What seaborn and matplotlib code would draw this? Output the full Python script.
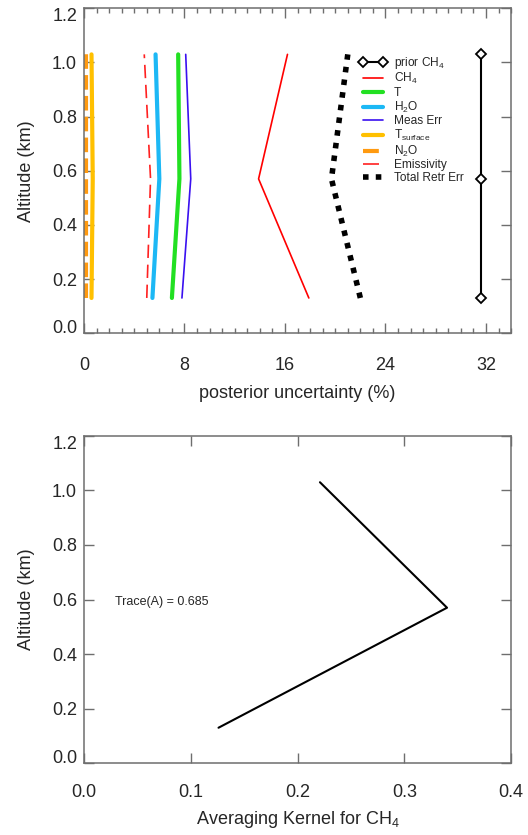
import numpy as np
import pandas as pd
import seaborn as sns
import matplotlib.pyplot as plt
from matplotlib.ticker import MultipleLocator, FixedLocator, FormatStrFormatter

# altitude levels (km)
alt = [0.13, 0.57, 1.03]

# posterior uncertainty (%) per error source
ch4 = [17.9, 13.9, 16.2]
temp = [7.0, 7.6, 7.5]
h2o = [5.45, 6.0, 5.7]
meas_err = [7.8, 8.5, 8.1]
t_surf = [0.6, 0.7, 0.6]
n2o = [0.15, 0.15, 0.15]
emis = [5.0, 5.3, 4.8]
total_err = [22.0, 19.7, 21.0]
prior_ch4 = [31.6, 31.6, 31.6]

# averaging kernel diagonal
kernel = [0.126, 0.340, 0.221]
trace_txt = "Trace(A) = 0.685"

alt_ticks = [0.0, 0.2, 0.4, 0.6, 0.8, 1.0, 1.2]

sns.set_style("ticks")
plt.rcParams["font.family"] = ["Liberation Sans", "DejaVu Sans"]
plt.rcParams["mathtext.default"] = "regular"

fig = plt.figure(figsize=(5.28, 8.35), dpi=100)
ax1 = fig.add_axes([0.159, 0.601, 0.809, 0.389])
ax2 = fig.add_axes([0.159, 0.086, 0.809, 0.392])

df = pd.DataFrame({"alt": alt, "ch4": ch4, "temp": temp, "h2o": h2o,
                   "meas": meas_err, "tsurf": t_surf, "n2o": n2o,
                   "emis": emis, "total": total_err, "prior": prior_ch4,
                   "kernel": kernel})

series = [
    ("prior", r"prior CH$_4$", dict(color="black", lw=1.5, marker="D", ms=5,
                                    mfc="white", mec="black", mew=1.3)),
    ("ch4", r"CH$_4$", dict(color="#ff0000", lw=1.2)),
    ("temp", "T", dict(color="#22e022", lw=3.0)),
    ("h2o", r"H$_2$O", dict(color="#1cb8f5", lw=3.0)),
    ("meas", "Meas Err", dict(color="#3a10f0", lw=1.2)),
    ("tsurf", r"T$_{surface}$", dict(color="#ffc000", lw=3.0)),
    ("n2o", r"N$_2$O", dict(color="#ff9a10", lw=3.0, linestyle=(0, (3.5, 1.5)))),
    ("emis", "Emissivity", dict(color="#ff2020", lw=1.2, linestyle=(0, (8, 4)))),
    ("total", "Total Retr Err", dict(color="black", lw=4.0, linestyle=(0, (1.0, 1.3)))),
]

for col, lab, kw in series:
    sns.lineplot(data=df, x=col, y="alt", orient="y", sort=False,
                 estimator=None, ax=ax1, label=lab, **kw)

ax1.set_xlim(0, 34)
ax1.set_ylim(0, 1.2)
ax1.xaxis.set_major_locator(MultipleLocator(8))
ax1.xaxis.set_minor_locator(MultipleLocator(1))
ax1.xaxis.set_major_formatter(FormatStrFormatter("%d"))
ax1.set_xlabel("posterior uncertainty (%)", fontsize=13, labelpad=8)
ax1.set_ylabel("Altitude (km)", fontsize=13, labelpad=12)

leg = ax1.legend(loc="upper left", bbox_to_anchor=(0.645, 0.857), frameon=False,
                 fontsize=8.6, handlelength=2.3, handletextpad=0.55,
                 labelspacing=0.05, numpoints=2, borderpad=0.0,
                 borderaxespad=0.0)
# legend samples for the dash-dot entries
leg_lines = leg.get_lines()
leg_lines[6].set_linestyle((0, (3.8, 1.0, 0.5, 1.0)))
leg_lines[7].set_linestyle((0, (9.6, 2.4, 1.2, 2.4)))

sns.lineplot(data=df, x="kernel", y="alt", orient="y", sort=False,
             estimator=None, ax=ax2, color="black", lw=1.5)
ax2.set_xlim(0, 0.4)
ax2.set_ylim(0, 1.2)
ax2.xaxis.set_major_locator(MultipleLocator(0.1))
ax2.xaxis.set_major_formatter(FormatStrFormatter("%.1f"))
ax2.set_xlabel(r"Averaging Kernel for CH$_4$", fontsize=13, labelpad=6)
ax2.set_ylabel("Altitude (km)", fontsize=13, labelpad=12)
ax2.text(0.029, 0.59, trace_txt, fontsize=9, va="center", ha="left")

for ax in (ax1, ax2):
    ax.yaxis.set_major_locator(FixedLocator(alt_ticks))
    ax.yaxis.set_major_formatter(FormatStrFormatter("%.1f"))
    for s in ax.spines.values():
        s.set_color("#6e6e6e")
        s.set_linewidth(1.1)
    ax.tick_params(which="major", direction="in", length=7, width=1,
                   color="#6e6e6e", top=True, right=True, labelsize=13)
    ax.tick_params(which="minor", direction="in", length=3.5, width=1,
                   color="#6e6e6e", top=True, right=True)
    ax.tick_params(axis="y", which="major", pad=5)

ax1.tick_params(axis="x", which="major", pad=17)
ax2.tick_params(axis="x", which="major", pad=15)

# IDL-style: keep the end labels inside the axis height
fig.canvas.draw()
for ax in (ax1, ax2):
    for t in ax.yaxis.get_major_ticks():
        if abs(t.get_loc() - alt_ticks[0]) < 1e-6:
            t.label1.set_verticalalignment("baseline")
        elif abs(t.get_loc() - alt_ticks[-1]) < 1e-6:
            t.label1.set_verticalalignment("top")

fig.savefig("out.png", dpi=100)
